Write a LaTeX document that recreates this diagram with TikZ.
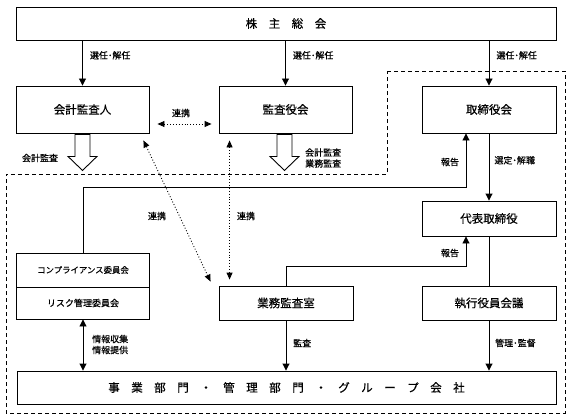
\documentclass[tikz,border=0pt]{standalone}
\usepackage{fontspec}
\setmainfont{Noto Sans CJK JP}[FakeBold=0.5]
\usetikzlibrary{arrows.meta,calc}
\begin{document}
\begin{tikzpicture}[x=1pt,y=-1pt,
  box/.style={draw,line width=0.9pt,inner sep=0pt,font=\fontsize{11.5}{13}\selectfont},
  lbl/.style={font=\fontsize{9}{11}\selectfont,inner sep=0pt},
  arr/.style={line width=0.9pt,-{Triangle[length=7pt,width=7pt]}},
  darr/.style={line width=0.9pt,{Triangle[length=7pt,width=7pt]}-{Triangle[length=7pt,width=7pt]}},
  dotarr/.style={line width=0.9pt,dotted,{Triangle[length=7pt,width=6pt]}-{Triangle[length=7pt,width=6pt]}},
  ln/.style={line width=0.9pt},
  blockarr/.style={draw,line width=0.9pt,fill=white},
  region/.style={draw,line width=0.9pt,dash pattern=on 4pt off 3pt}
]
\useasboundingbox[fill=white] (0,0) rectangle (571,420);

% dashed region
\draw[region] (387,71) -- (565,71) -- (565,413) -- (6,413) -- (6,174) -- (387,174) -- cycle;

% boxes
\node[box,minimum width=540pt,minimum height=33pt] (shm) at (286,23.5) {株　主　総　会};
\node[box,minimum width=133pt,minimum height=47pt] (kaikei) at (82.5,109.5) {会計監査人};
\node[box,minimum width=133pt,minimum height=47pt] (kansa) at (285.5,109.5) {監査役会};
\node[box,minimum width=134pt,minimum height=47pt] (tori) at (489,109.5) {取締役会};
\node[box,minimum width=134pt,minimum height=35pt] (daihyo) at (489,218.5) {代表取締役};
\node[box,minimum width=134pt,minimum height=34pt] (shikko) at (489,303) {執行役員会議};
\node[box,minimum width=134pt,minimum height=34pt] (gyomu) at (286,303) {業務監査室};
\node[box,minimum width=133pt,minimum height=34pt,font=\fontsize{8.4}{10}\selectfont] (comp) at (83,270) {コンプライアンス委員会};
\node[box,minimum width=133pt,minimum height=32pt,font=\fontsize{9}{11}\selectfont] (risk) at (83,303) {リスク管理委員会};
\node[box,minimum width=539pt,minimum height=33pt] (bottom) at (286.5,387.5) {事　業　部　門　・　管　理　部　門　・　グ　ル　ー　プ　会　社};

% election arrows
\draw[arr] (shm.south -| kaikei.north) -- (kaikei.north) node[lbl,anchor=west,pos=0.33,xshift=7pt] (l1) {選任･解任};
\draw[arr] (shm.south -| kansa.north) -- (kansa.north) node[lbl,anchor=west,pos=0.33,xshift=7pt] (l2) {選任･解任};
\draw[arr] (shm.south -| tori.north) -- (tori.north) node[lbl,anchor=west,pos=0.33,xshift=7pt] (l3) {選任･解任};

% cooperation between auditors
\draw[dotarr] ([xshift=8pt,yshift=-14.5pt]kaikei.east) -- ([xshift=-7pt,yshift=-14.5pt]kansa.west);
\node[lbl] (l4) at (181,113) {連携};

% block arrows
\draw[blockarr] ($(kaikei.south)+(-7.5,1)$) -- ++(15,0) -- ++(0,22) -- ++(7,0) -- ++(-14.5,14) -- ++(-14.5,-14) -- ++(7,0) -- cycle;
\draw[blockarr] ($(kansa.south)+(-8.5,1)$) -- ++(15,0) -- ++(0,22) -- ++(7,0) -- ++(-14.5,14) -- ++(-14.5,-14) -- ++(7,0) -- cycle;
\node[lbl] (l5) at (40,158) {会計監査};
\node[lbl,anchor=west,align=left] (l6) at (305,158) {会計監査\\業務監査};

% reporting lines
\coordinate (c1) at (466,187);
\draw[arr] (comp.north) |- (c1) -- (c1 |- tori.south);
\node[lbl] (l7) at (450,162) {報告};
\draw[arr] (tori.south) -- (daihyo.north) node[lbl,anchor=west,pos=0.4,xshift=5pt] (l8) {選定･解職};
\draw[ln] (daihyo.south) -- (shikko.north);
\coordinate (c2) at (466,266);
\draw[arr] (gyomu.north) |- (c2) -- (c2 |- daihyo.south);
\node[lbl] (l9) at (450,253) {報告};

% cooperation with internal audit
\draw[dotarr] ([xshift=-6pt,yshift=-7pt]kaikei.south east) -- ([xshift=-8pt,yshift=4pt]gyomu.north west);
\draw[dotarr] ([xshift=11pt,yshift=-7pt]kansa.south west) -- ([xshift=11pt,yshift=6pt]gyomu.north west);
\node[lbl] (l10) at (157,216) {連携};
\node[lbl] (l11) at (246,216) {連携};

% lower arrows
\draw[darr] (risk.south) -- (risk.south |- bottom.north);
\node[lbl,anchor=west,align=left] (l12) at (92,344.5) {情報収集\\情報提供};
\draw[arr] (gyomu.south) -- (gyomu.south |- bottom.north);
\node[lbl,anchor=west] (l13) at (293,343) {監査};
\draw[arr] (shikko.south) -- (shikko.south |- bottom.north);
\node[lbl,anchor=west] (l14) at (495,343) {管理･監督};
\end{tikzpicture}
\end{document}
